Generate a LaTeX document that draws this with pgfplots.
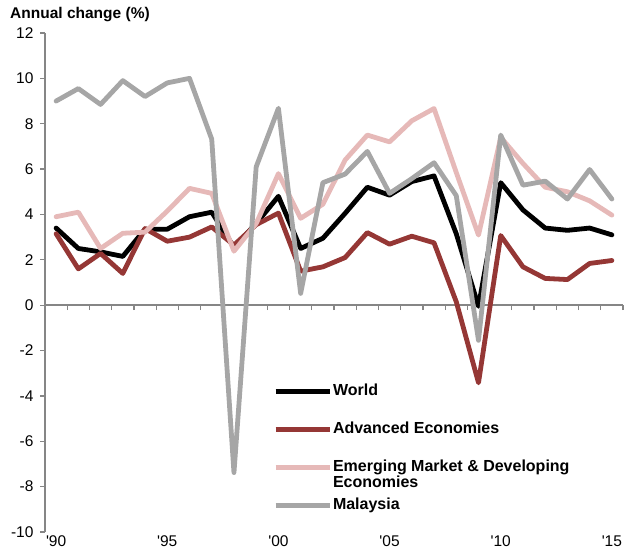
\documentclass[border=0pt]{standalone}
\usepackage{fontspec}
\setmainfont{Liberation Sans}[Ligatures=TeXOff]
\usepackage{pgfplots}
\pgfplotsset{compat=1.18}
\definecolor{advred}{RGB}{149,55,53}
\definecolor{emdepink}{RGB}{230,185,184}
\definecolor{mygray}{RGB}{166,166,166}
\definecolor{axisgray}{RGB}{134,134,134}

\pgfplotstableread{
year world adv emde mys
1990 3.40 3.15 3.90 9.00
1991 2.50 1.60 4.10 9.55
1992 2.35 2.28 2.50 8.85
1993 2.15 1.40 3.17 9.90
1994 3.35 3.38 3.22 9.20
1995 3.35 2.82 4.15 9.80
1996 3.90 3.00 5.15 10.00
1997 4.10 3.45 4.93 7.32
1998 2.55 2.65 2.38 -7.38
1999 3.60 3.55 3.60 6.10
2000 4.80 4.06 5.80 8.68
2001 2.50 1.50 3.83 0.52
2002 2.95 1.69 4.45 5.40
2003 4.05 2.10 6.40 5.78
2004 5.20 3.20 7.50 6.78
2005 4.85 2.69 7.20 4.93
2006 5.45 3.04 8.13 5.58
2007 5.70 2.75 8.67 6.28
2008 3.15 0.15 5.85 4.83
2009 -0.05 -3.42 3.09 -1.55
2010 5.40 3.07 7.40 7.50
2011 4.20 1.69 6.25 5.29
2012 3.40 1.18 5.20 5.47
2013 3.30 1.13 5.00 4.68
2014 3.40 1.84 4.60 5.98
2015 3.10 1.97 3.97 4.68
}\growth

\begin{document}
\begin{tikzpicture}
\useasboundingbox (-45pt,-20pt) rectangle (579pt,532pt);
\begin{axis}[
    at={(0pt,0pt)}, anchor=south west,
    scale only axis,
    width=578pt, height=499pt,
    xmin=1989.5, xmax=2015.5,
    ymin=-10, ymax=12,
    axis x line=middle,
    axis y line=left,
    hide obscured x ticks=false,
    hide obscured y ticks=false,
    axis line style={axisgray, line width=1.6pt, -},
    every tick/.style={axisgray, line width=1.2pt},
    tick align=outside,
    major tick length=5pt,
    minor tick length=5pt,
    ytick={-10,-8,...,12},
    xtick={1990,1995,2000,2005,2010,2015},
    xticklabels={'90,'95,'00,'05,'10,'15},
    major x tick style={draw=none},
    minor xtick={1989.5,1990.5,...,2015.5},
    xticklabel style={anchor=north, yshift=-224pt, inner ysep=1pt},
    yticklabel style={anchor=east, xshift=-3pt},
    tick label style={font=\fontsize{15.5}{18}\selectfont},
    /pgf/number format/assume math mode=true,
    legend style={at={(0.3945,0.3006)}, anchor=north west, draw=none, fill=none,
        inner sep=0pt, row sep=20pt, column sep=0pt,
        font=\fontsize{16}{18}\selectfont\bfseries,
        nodes={inner sep=1pt, text height=12pt, text depth=4pt}},
    legend cell align=left,
    legend image code/.code={\draw[#1, line cap=butt] (0pt,0pt) -- (54pt,0pt);},
    every axis plot/.append style={line width=4.8pt, line join=round, line cap=round},
    clip=false,
]
\addplot[black] table[x=year, y=world] {\growth};
\addplot[advred] table[x=year, y=adv] {\growth};
\addplot[emdepink] table[x=year, y=emde] {\growth};
\addplot[mygray] table[x=year, y=mys] {\growth};
\legend{World, Advanced Economies, {\begin{tabular}[t]{@{}l@{}}Emerging Market \& Developing\\[-2pt]Economies\end{tabular}}, Malaysia}
\end{axis}
\node[anchor=base west, inner sep=0pt, font=\fontsize{15.5}{18}\selectfont\bfseries] at (-35pt,513.5pt) {Annual change (\%)};
\end{tikzpicture}
\end{document}
